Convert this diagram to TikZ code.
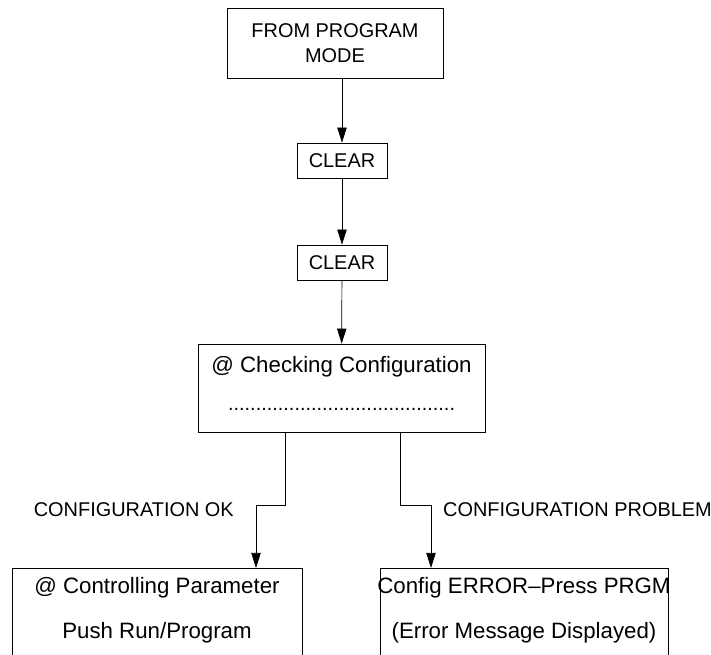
\documentclass[tikz,border=0pt]{standalone}
\usepackage{fontspec}
\setmainfont{Liberation Sans}
\usetikzlibrary{arrows.meta,positioning,calc}

\begin{document}
\begin{tikzpicture}[x=0.3mm,y=-0.3mm,
  font=\fontsize{17}{21}\selectfont,
  box/.style={draw,line width=0.6pt,inner sep=0pt,align=center},
  txt/.style={inner sep=0pt,font=\fontsize{19}{23}\selectfont},
  flow/.style={line width=0.6pt,-{Triangle[length=4.5mm,width=2.8mm]}}]
\useasboundingbox (0,0) rectangle (711,655);
% main chain
\node[box,minimum width=64.8mm,minimum height=21mm] (from) at (335,43) {FROM PROGRAM\\MODE};
\node[box,minimum width=27mm,minimum height=10.5mm] (clr1) at (342,160.5) {CLEAR};
\node[box,minimum width=27mm,minimum height=10.5mm] (clr2) at (342,262.5) {CLEAR};
\node[box,minimum width=86.1mm,minimum height=26.4mm] (check) at (341.5,388) {};
\node[txt] (checktxt) at (341.5,367) {@ Checking Configuration};
\node[inner sep=0pt,anchor=base] (dots) at (341.5,411) {.........................................};
\draw[flow] (from.south -| clr1.north) -- (clr1.north);
\draw[flow] (clr1) -- (clr2);
\draw[flow] (clr2) -- (check);
% two outcomes
\node[box,minimum width=87mm,minimum height=36mm,anchor=north] (okbox) at (157,568) {};
\node[box,minimum width=86.4mm,minimum height=36mm,anchor=north] (errbox) at (524,568) {};
\node[txt] (oktxt1) at (157,588) {@ Controlling Parameter};
\node[txt] (oktxt2) at (157,633) {Push Run/Program};
\node[txt] (errtxt1) at (524,588) {Config ERROR--Press PRGM};
\node[txt] (errtxt2) at (524,633) {(Error Message Displayed)};
\coordinate (okturn) at (256,505);
\coordinate (errturn) at (431,505);
\draw[flow] (check.south) ++(-56.5,0) |- (okturn) -- (okturn |- okbox.north);
\draw[flow] (check.south) ++(58.5,0) |- (errturn) -- (errturn |- errbox.north);
\node[inner sep=0pt,anchor=east] (oklbl) at (234,510) {CONFIGURATION OK};
\node[inner sep=0pt,anchor=west] (errlbl) at (443,510) {CONFIGURATION PROBLEM};
\end{tikzpicture}
\end{document}
